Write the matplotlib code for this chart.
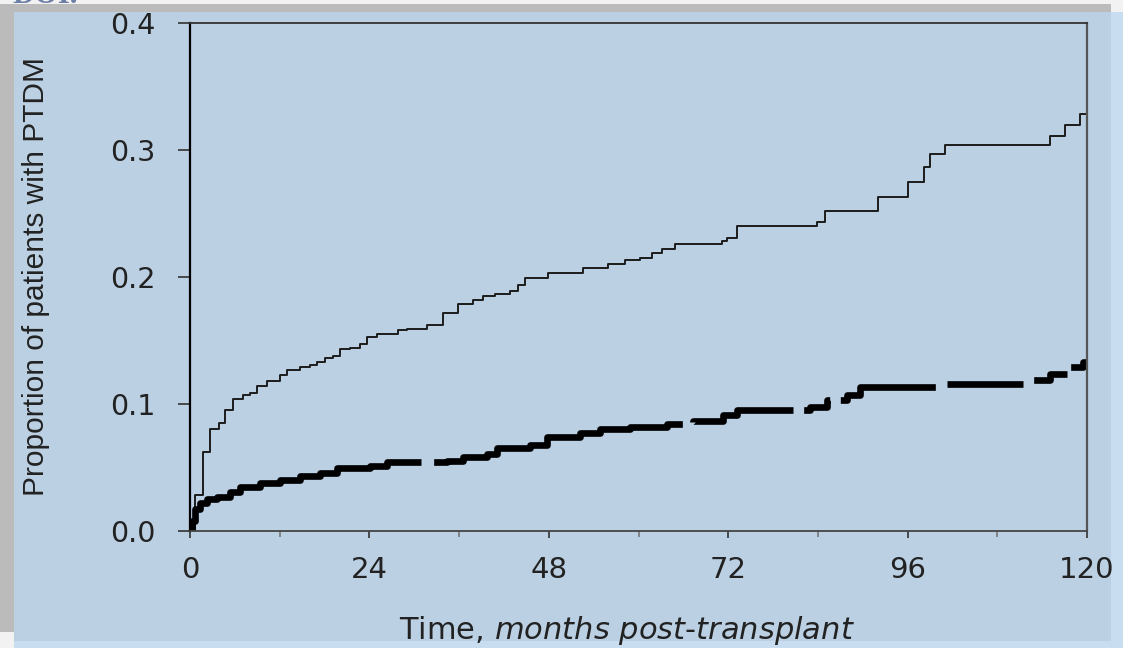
import matplotlib.pyplot as plt
from matplotlib.patches import Rectangle

plt.rcParams['font.family'] = ['DejaVu Sans']
plt.rcParams['mathtext.fontset'] = 'dejavusans'

# Dữ liệu (tháng, tỉ lệ) - bậc thang
x_upper = [0, 0.7, 1.7, 2.7, 3.9, 4.7, 5.8, 7.1, 8.0, 9.0, 10.3, 12.0, 13.0, 14.7,
           16.0, 17.0, 18.0, 19.1, 20.0, 21.4, 22.7, 23.7, 25.0, 27.8, 29.0, 31.7,
           33.9, 35.9, 37.9, 39.2, 40.8, 42.8, 43.9, 44.8, 47.9, 52.6, 55.9, 58.2,
           60.2, 61.8, 63.2, 64.9, 71.2, 71.8, 73.2, 83.9, 84.9, 92.0, 96.1, 98.2,
           99.0, 101.0, 115.0, 117.0, 119.0, 120.0]
y_upper = [0, 0.028, 0.062, 0.080, 0.085, 0.095, 0.104, 0.107, 0.109, 0.114, 0.118,
           0.123, 0.127, 0.129, 0.131, 0.133, 0.136, 0.138, 0.143, 0.144, 0.147,
           0.153, 0.155, 0.158, 0.159, 0.162, 0.172, 0.179, 0.182, 0.185, 0.187,
           0.189, 0.194, 0.199, 0.203, 0.207, 0.210, 0.213, 0.215, 0.219, 0.222,
           0.226, 0.228, 0.231, 0.240, 0.243, 0.252, 0.263, 0.275, 0.287, 0.297,
           0.304, 0.311, 0.320, 0.328, 0.328]

x_lower = [0, 0.3, 0.67, 1.3, 2.3, 3.6, 5.4, 6.7, 9.4, 12.0, 14.7, 17.4, 19.7, 24.1,
           26.4, 34.4, 36.5, 39.7, 41.1, 45.5, 47.8, 52.2, 54.9, 58.9, 63.8, 67.3,
           71.3, 73.2, 83.0, 85.2, 87.9, 89.6, 100.7, 112.8, 115.0, 117.3, 119.5, 120]
y_lower = [0, 0.008, 0.017, 0.022, 0.025, 0.027, 0.031, 0.035, 0.038, 0.040, 0.043,
           0.046, 0.050, 0.051, 0.054, 0.055, 0.058, 0.061, 0.065, 0.068, 0.074,
           0.077, 0.080, 0.082, 0.084, 0.087, 0.091, 0.095, 0.098, 0.103, 0.107,
           0.113, 0.116, 0.119, 0.124, 0.129, 0.133, 0.135]

x_ticks = [0, 24, 48, 72, 96, 120]
y_ticks = [0.0, 0.1, 0.2, 0.3, 0.4]
y_tick_labels = ['0.0', '0.1', '0.2', '0.3', '0.4']

W, H = 1123, 648
fig = plt.figure(figsize=(W / 100, H / 100), dpi=100, facecolor='#c9ddf0')


def khung(x0, y0, x1, y1, color, z):
    # toạ độ pixel, gốc ở góc trên trái
    fig.add_artist(Rectangle((x0 / W, 1 - y1 / H), (x1 - x0) / W, (y1 - y0) / H,
                             transform=fig.transFigure, facecolor=color,
                             edgecolor='none', zorder=z))


# nền: viền xám + khung xanh
khung(0, 0, W, 12, '#f2f2f2', -5)
khung(0, 0, 14, H, '#f2f2f2', -5)
fig.text(12 / W, 1 - 3 / H, 'DOI.', family='Liberation Serif', fontweight='bold',
         fontsize=22, color='#6d7fa6', va='baseline', zorder=-4)
khung(0, 4, 1111, 12, '#bbbbbb', -3)
khung(0, 4, 14, 632, '#bbbbbb', -3)
khung(14, 12, 1111, 641, '#bbd0e3', -2)

ax = fig.add_axes([190 / W, 1 - 531 / H, 897 / W, 508 / H])
ax.patch.set_visible(False)

ax.step(x_upper, y_upper, where='post', color='#1c1c1c', lw=1.4)
# nét đứt không đều như bản gốc (đơn vị: bề rộng nét)
ax.step(x_lower, y_lower, where='post', color='black', lw=4.8,
        linestyle=(0, (45, 1.9, 43, 1.9, 16.8, 1.6, 5.4, 1.6, 16.2, 2.2,
                       11.4, 2.2, 5.9, 1.6, 40, 1)),
        dash_capstyle='butt')

ax.set_xlim(0, 120)
ax.set_ylim(0, 0.4)
ax.set_xticks(x_ticks)
ax.set_xticks(range(12, 120, 24), minor=True)
ax.set_yticks(y_ticks)
ax.set_yticklabels(y_tick_labels)

ax.tick_params(axis='y', direction='out', length=9, width=1.2, pad=16,
               labelsize=20.5, color='#333333', labelcolor='#222222')
ax.tick_params(axis='x', which='major', direction='out', length=5, width=1.2,
               pad=13, labelsize=21, color='#333333', labelcolor='#222222')
ax.tick_params(axis='x', which='minor', direction='out', length=4, width=1.2,
               color='#777777')

ax.spines['left'].set_color('black')
ax.spines['left'].set_linewidth(1.6)
ax.spines['bottom'].set_color('#444444')
ax.spines['bottom'].set_linewidth(1.3)
ax.spines['top'].set_color('#333333')
ax.spines['top'].set_linewidth(1.3)
ax.spines['right'].set_color('#555555')
ax.spines['right'].set_linewidth(1.6)

ax.set_ylabel('Proportion of patients with PTDM', fontsize=21.5, color='#222222',
              family=['Liberation Sans', 'DejaVu Sans'])
ax.yaxis.set_label_coords(-0.156, 0.5)

ax.set_xlabel(r'Time, $\mathit{months\ post}$-$\mathit{transplant}$', fontsize=22,
              color='#222222')
ax.xaxis.set_label_coords(0.487, -0.164)

fig.savefig('out.png', dpi=100, facecolor=fig.get_facecolor())
